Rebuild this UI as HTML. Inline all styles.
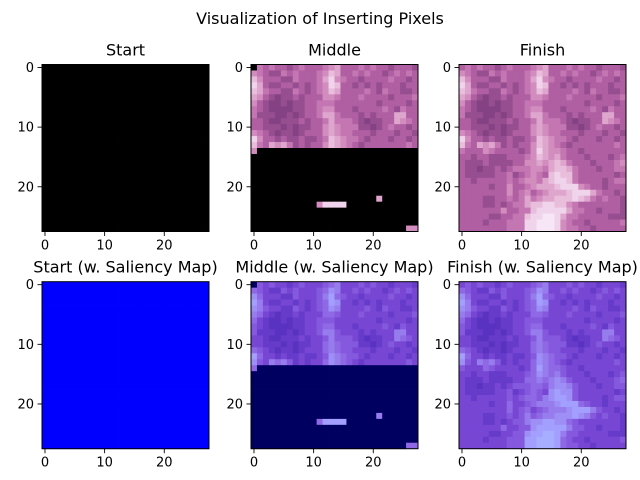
<!DOCTYPE html>
<html><head><meta charset="utf-8"><style>
body{margin:0;background:#fff;}
svg{display:block;font-family:"DejaVu Sans","Liberation Sans",sans-serif;}
</style></head><body>
<svg id="fig" width="640" height="480" viewBox="0 0 640 480">
<rect width="640" height="480" fill="#fff"/>
<text x="320" y="24" font-size="16" text-anchor="middle">Visualization of Inserting Pixels</text>
</svg>
<script>
// lightness grid (0 dark .. 9 light) of the finished image, 28x28
const finishRows = [
"3434332343334563334343323332","5432243433345763343433234343","7533322433346854332333343323",
"8632233232345873323232333233","7643322432345763333432433223","6532122323335543334333323334",
"5321121223344433333332333323","4321111223345533323333432433","4222112123346643332323336633",
"3321122232334644432122336543","3322212122335654442212343323","5432122123335654433323332332",
"8533232232234765443233323323","7436564232335765432333333343","4333543333235865543323333333",
"3323322233345765643332333234","3222322223355656764333233345","3221223234445546776433323344",
"3222223342345437877433333323","3323333343455467887433332344","3333323353345666788854332333",
"3333333353453456667888643323","3333223343464566777876434332","3333223234467788775433333332",
"3333333533447888886443323332","3333322334478899864433333222","3333233344488999854332333334",
"3333333344488999854433233333"];
const middleRowsShown = 14;
const middleExtra = [[14,0,5],[23,11,5],[23,12,8],[23,13,8],[23,14,8],[23,15,8],[22,21,6],[27,26,5],[27,27,5]];
const panelTitles = ["Start","Middle","Finish","Start (w. Saliency Map)","Middle (w. Saliency Map)","Finish (w. Saliency Map)"];
const tickVals = [0,10,20];

const NS="http://www.w3.org/2000/svg";
const svg=document.getElementById('fig');
function el(t,a){const e=document.createElementNS(NS,t);for(const k in a)e.setAttribute(k,a[k]);return e;}
const stops=[[120,58,122],[132,66,132],[150,78,145],[175,95,162],[195,118,178],[210,140,190],[222,165,205],[232,190,220],[240,212,235],[246,230,246]];
function pink(d){ if(d===null) return [0,0,0]; return stops[d]; }
function sal(c,blank){
  if(blank) return [0,0,96];
  return [c[0]*0.68,c[1]*0.75,Math.min(255,c[2]*0.6+115)];
}
function rgb(c){return `rgb(${c.map(Math.round).join(',')})`;}
function cellValue(panel,r,c){
  const v=+finishRows[r][c];
  if(panel===0) return null;
  if(panel===2) return v;
  if(r===0&&c===0) return null;
  if(r<middleRowsShown) return v;
  for(const e of middleExtra) if(e[0]===r&&e[1]===c) return e[2];
  return null;
}
const axX=[42,251,459], axY=[64.5,281.7], W=167, H=167, N=28, cs=W/N;
for(let p=0;p<6;p++){
  const ax=axX[p%3], ay=axY[Math.floor(p/3)], salMode=p>=3, base=p%3;
  const g=el('g',{});
  
  
  svg.appendChild(g);
  for(let r=0;r<N;r++)for(let c=0;c<N;c++){
    const v=cellValue(base,r,c);
    let col;
    if(salMode){ col = base===0 ? [0,0,255] : sal(pink(v), v===null); }
    else col=pink(v);
    const rc=el('rect',{x:(ax+c*cs).toFixed(2),y:(ay+r*cs).toFixed(2),width:(cs+0.4).toFixed(2),height:(cs+0.4).toFixed(2),fill:rgb(col)});
    
    
    g.appendChild(rc);
  }
  const fr=el('rect',{x:ax,y:ay,width:W,height:H,fill:'none',stroke:'#000','stroke-width':1});
  
  
  g.appendChild(fr);
  const tt=el('text',{x:ax+W/2,y:ay-9,'font-size':16,'text-anchor':'middle'});
  tt.textContent=panelTitles[p];
  
  
  g.appendChild(tt);
  for(const t of tickVals){
    const px=ax+(t+0.5)*cs, py=ay+(t+0.5)*cs;
    g.appendChild(el('line',{x1:px,y1:ay+H,x2:px,y2:ay+H+4.5,stroke:'#000','stroke-width':0.9}));
    const xl=el('text',{x:px,y:ay+H+18,'font-size':13,'text-anchor':'middle'});
    xl.textContent=t;
    
    
    g.appendChild(xl);
    g.appendChild(el('line',{x1:ax-4.5,y1:py,x2:ax,y2:py,stroke:'#000','stroke-width':0.9}));
    const yl=el('text',{x:ax-8,y:py+4.5,'font-size':13,'text-anchor':'end'});
    yl.textContent=t;
    
    
    g.appendChild(yl);
  }
}
</script>
</body></html>
